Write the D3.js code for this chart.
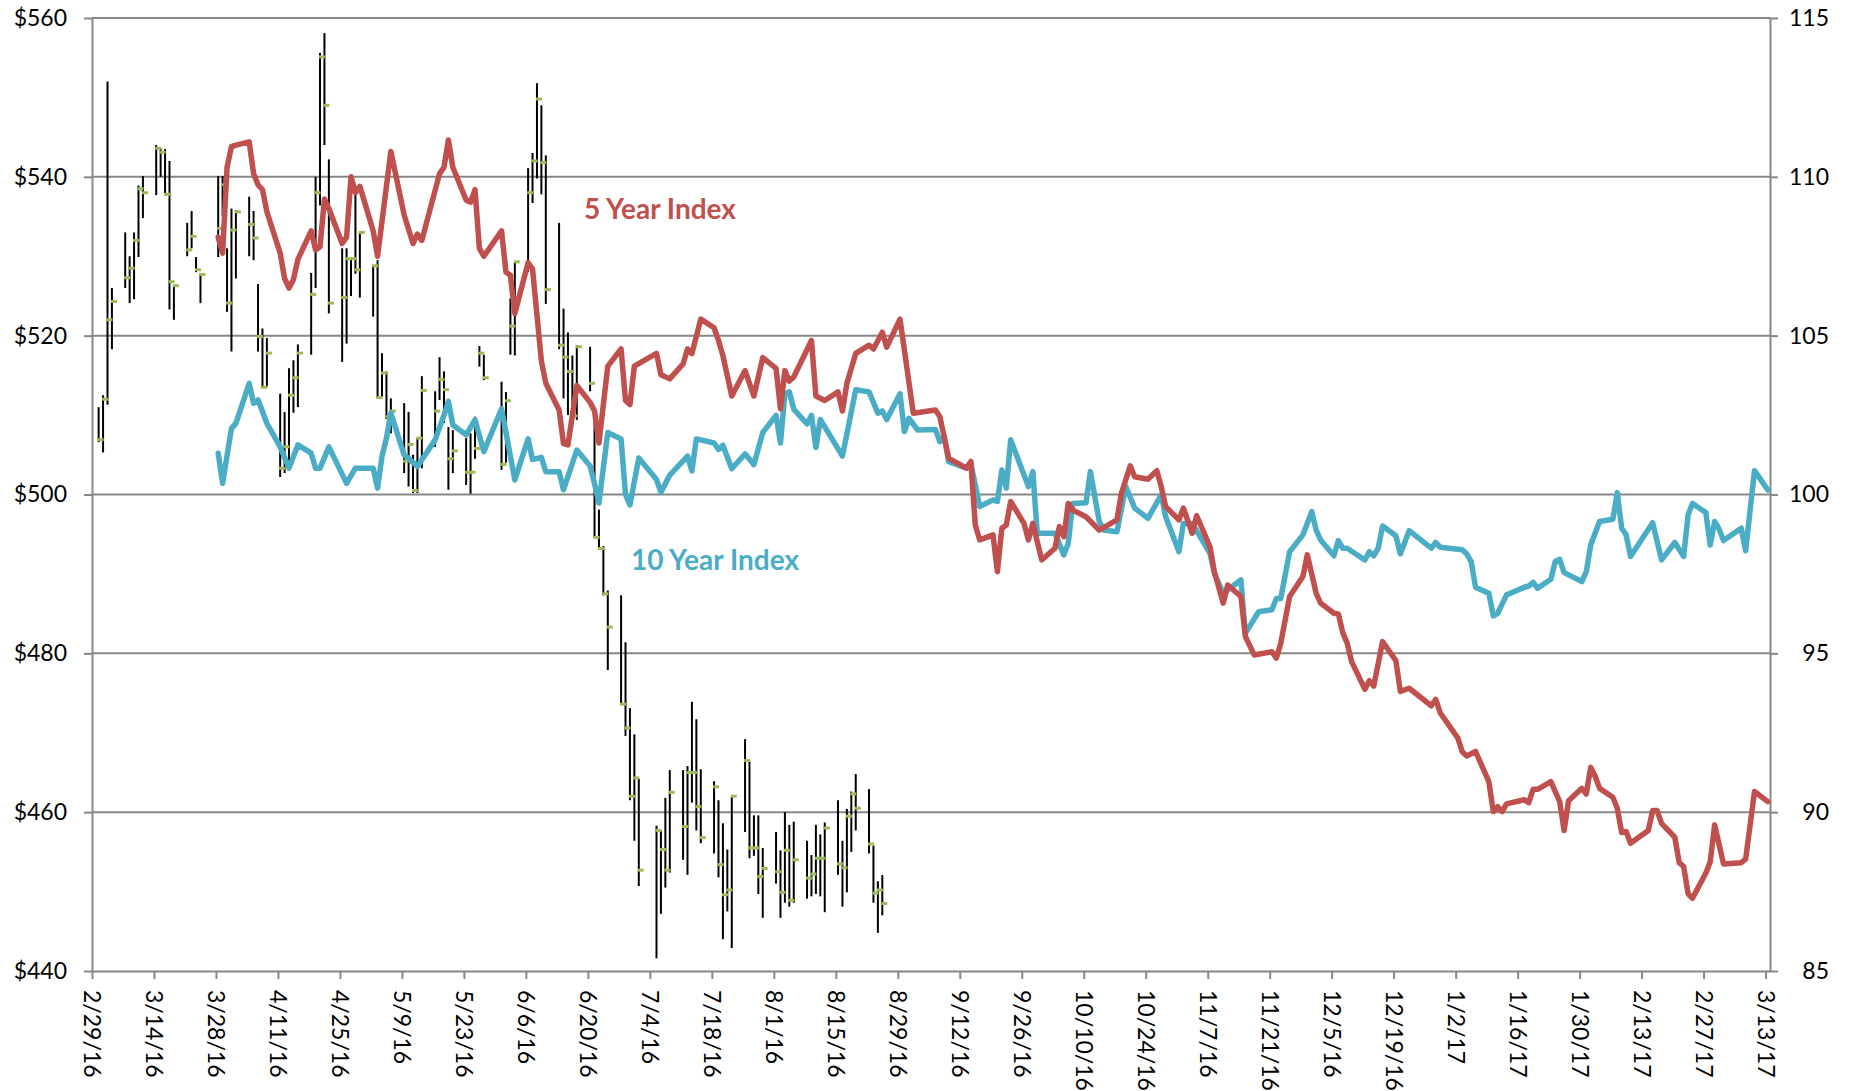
<!DOCTYPE html>
<html>
<head>
<meta charset="utf-8">
<script src="https://cdn.jsdelivr.net/npm/d3@7"></script>
<style>
  html, body { margin: 0; padding: 0; background: #ffffff; }
  svg { display: block; }
</style>
</head>
<body>
<script>
// ---------------- DATA ----------------
const xTickLabels = ["2/29/16","3/14/16","3/28/16","4/11/16","4/25/16","5/9/16","5/23/16","6/6/16","6/20/16","7/4/16","7/18/16","8/1/16","8/15/16","8/29/16","9/12/16","9/26/16","10/10/16","10/24/16","11/7/16","11/21/16","12/5/16","12/19/16","1/2/17","1/16/17","1/30/17","2/13/17","2/27/17","3/13/17"];
const leftTicks = [440, 460, 480, 500, 520, 540, 560];
const rightTicks = [85, 90, 95, 100, 105, 110, 115];

// Stock price: high / low / close
const ohlcDates = ["3/1/16","3/2/16","3/3/16","3/4/16","3/7/16","3/8/16","3/9/16","3/10/16","3/11/16","3/14/16","3/15/16","3/16/16","3/17/16","3/18/16","3/21/16","3/22/16","3/23/16","3/24/16","3/28/16","3/29/16","3/30/16","3/31/16","4/1/16","4/4/16","4/5/16","4/6/16","4/7/16","4/8/16","4/11/16","4/12/16","4/13/16","4/14/16","4/15/16","4/18/16","4/19/16","4/20/16","4/21/16","4/22/16","4/25/16","4/26/16","4/27/16","4/28/16","4/29/16","5/2/16","5/3/16","5/4/16","5/5/16","5/6/16","5/9/16","5/10/16","5/11/16","5/12/16","5/13/16","5/16/16","5/17/16","5/18/16","5/19/16","5/20/16","5/23/16","5/24/16","5/25/16","5/26/16","5/27/16","5/31/16","6/1/16","6/2/16","6/3/16","6/6/16","6/7/16","6/8/16","6/9/16","6/10/16","6/13/16","6/14/16","6/15/16","6/16/16","6/17/16","6/20/16","6/21/16","6/22/16","6/23/16","6/24/16","6/27/16","6/28/16","6/29/16","6/30/16","7/1/16","7/5/16","7/6/16","7/7/16","7/8/16","7/11/16","7/12/16","7/13/16","7/14/16","7/15/16","7/18/16","7/19/16","7/20/16","7/21/16","7/22/16","7/25/16","7/26/16","7/27/16","7/28/16","7/29/16","8/1/16","8/2/16","8/3/16","8/4/16","8/5/16","8/8/16","8/9/16","8/10/16","8/11/16","8/12/16","8/15/16","8/16/16","8/17/16","8/18/16","8/19/16","8/22/16","8/23/16","8/24/16","8/25/16"];
const ohlcHigh = [511.0,512.5,552.0,526.0, 533.0,530.0,533.0,538.9,540.1, 544.0,543.6,543.5,542.0,526.4, 534.2,535.7,529.9,527.8, 540.1,540.1,531.0,536.0, 535.8, 537.5,535.7,526.5,520.9,519.7, 512.7,510.4,515.9,516.9,518.9, 527.9,540.0,555.6,558.1,542.2, 531.0,531.0,529.8,538.8,533.1, 528.9,529.5,517.8,515.5,512.1, 511.5,510.4,505.0,507.1,514.9, 513.0,517.3,515.5,508.5,508.1, 507.1,507.7,509.8,518.7,517.6, 514.2, 512.9,524.7,529.3, 541.1,543.0,551.8,549.0,542.7, 534.2,523.4,520.4,517.5,518.8, 518.6,511.0,498.1,493.5,487.9, 487.3,481.4,473.1,469.8, 464.2, 458.3,457.7,461.8,465.3, 465.3,465.8,473.9,471.7,465.4, 463.9,461.5,458.6,455.3,462.0, 469.2,466.4,459.6,459.6,455.5, 457.5,455.2,460.0,458.4,458.8, 456.4,454.6,458.4,457.2,458.7, 461.5,456.4,460.4,462.6,464.8, 462.9,455.8,451.3,452.1];
const ohlcLow = [506.6,505.3,511.3,518.3, 526.0,524.1,524.6,529.9,534.8, 537.7,540.0,537.7,523.3,522.0, 530.0,531.0,528.0,524.1, 529.9,535.1,523.0,518.0, 527.2, 530.0,529.5,518.0,513.4,513.6, 502.2,502.7,503.1,510.3,511.0, 517.6,526.0,536.4,544.0,522.8, 516.7,519.0,525.0,527.8,524.8, 522.4,512.1,512.3,509.5,507.7, 502.7,501.0,500.2,500.2,503.3, 506.0,511.9,509.0,500.6,502.7, 501.2,500.1,504.5,516.1,514.4, 503.1, 504.0,517.6,517.5, 528.0,536.7,539.8,537.8,524.0, 518.3,512.1,510.0,509.0,509.4, 513.0,494.6,493.2,487.3,477.9, 473.6,469.6,461.5,456.4, 450.7, 441.6,447.2,450.5,452.4, 454.0,452.1,461.2,457.7,456.1, 454.8,451.8,444.0,447.5,442.9, 457.5,454.2,454.5,449.7,446.7, 451.0,446.7,448.6,448.1,448.6, 449.1,449.4,449.7,449.4,447.4, 452.1,448.1,449.9,455.0,457.7, 454.8,448.6,444.8,447.0];
const ohlcClose = [506.9,512.0,522.0,524.3, 527.3,528.5,532.0,538.5,538.0, 543.6,543.1,537.8,526.8,526.3, 530.8,532.5,528.3,527.7, 533.5,539.0,524.1,533.3, 535.6, 534.0,532.3,519.9,513.5,517.8, 503.3,506.0,512.5,514.7,517.8, 525.2,538.0,555.1,549.0,524.1, 524.8,529.7,529.7,528.3,533.0, 528.8,512.2,515.3,509.8,510.5, 504.2,506.3,500.5,507.1,513.1, 510.5,514.5,513.2,504.5,505.5, 502.8,502.8,505.8,517.8,514.7, 503.8, 511.8,521.2,529.3, 538.0,542.0,549.8,541.8,525.8, 518.8,517.3,515.5,509.9,518.6, 514.0,494.6,493.2,487.5,483.3, 473.6,470.6,462.0,464.3, 452.7, 457.7,455.3,452.7,462.5, 458.2,465.0,465.0,460.7,456.8, 463.2,453.4,449.6,450.2,462.0, 466.5,455.5,455.5,451.9,452.9, 452.5,449.9,455.2,448.9,454.0, 451.7,452.2,454.2,454.2,458.0, 453.5,453.0,459.5,462.3,460.5, 456.0,449.8,450.2,448.5];

// 5 Year Index (right axis)
const fiveYearDates = ["3/28/16","3/29/16","3/30/16","3/31/16","4/1/16","4/4/16","4/5/16","4/6/16","4/7/16","4/8/16","4/11/16","4/12/16","4/13/16","4/14/16","4/15/16","4/18/16","4/19/16","4/20/16","4/21/16","4/22/16","4/25/16","4/26/16","4/27/16","4/28/16","4/29/16","5/2/16","5/3/16","5/6/16","5/9/16","5/11/16","5/12/16","5/13/16","5/17/16","5/18/16","5/19/16","5/20/16","5/23/16","5/24/16","5/25/16","5/26/16","5/27/16","5/31/16","6/1/16","6/2/16","6/3/16","6/6/16","6/7/16","6/9/16","6/10/16","6/13/16","6/14/16","6/15/16","6/17/16","6/20/16","6/21/16","6/22/16","6/24/16","6/27/16","6/28/16","6/29/16","6/30/16","7/5/16","7/6/16","7/8/16","7/11/16","7/12/16","7/13/16","7/15/16","7/18/16","7/19/16","7/20/16","7/22/16","7/25/16","7/27/16","7/29/16","8/1/16","8/2/16","8/3/16","8/4/16","8/5/16","8/9/16","8/10/16","8/12/16","8/15/16","8/16/16","8/17/16","8/19/16","8/22/16","8/23/16","8/25/16","8/26/16","8/29/16","9/1/16","9/6/16","9/7/16","9/9/16","9/13/16","9/14/16","9/15/16","9/16/16","9/19/16","9/20/16","9/21/16","9/22/16","9/23/16","9/26/16","9/27/16","9/28/16","9/30/16","10/3/16","10/4/16","10/5/16","10/6/16","10/7/16","10/10/16","10/13/16","10/17/16","10/18/16","10/20/16","10/21/16","10/24/16","10/26/16","10/27/16","10/28/16","10/31/16","11/1/16","11/3/16","11/4/16","11/7/16","11/8/16","11/10/16","11/11/16","11/14/16","11/15/16","11/17/16","11/21/16","11/22/16","11/23/16","11/25/16","11/28/16","11/29/16","12/1/16","12/2/16","12/5/16","12/6/16","12/7/16","12/8/16","12/9/16","12/12/16","12/13/16","12/14/16","12/16/16","12/19/16","12/20/16","12/22/16","12/27/16","12/28/16","12/29/16","1/2/17","1/3/17","1/4/17","1/6/17","1/9/17","1/10/17","1/11/17","1/12/17","1/13/17","1/17/17","1/18/17","1/19/17","1/20/17","1/23/17","1/25/17","1/26/17","1/27/17","1/30/17","1/31/17","2/1/17","2/2/17","2/3/17","2/6/17","2/7/17","2/8/17","2/9/17","2/10/17","2/14/17","2/15/17","2/16/17","2/17/17","2/20/17","2/21/17","2/22/17","2/23/17","2/24/17","2/27/17","2/28/17","3/1/17","3/3/17","3/7/17","3/8/17","3/10/17","3/13/17"];
const fiveYearValues = [108.1,107.6,110.3,110.95,111.0,111.1,110.1,109.75,109.6,108.9,107.6,106.8,106.5,106.77,107.4,108.3,107.7,107.8,109.3,109.0,107.9,108.1,110.0,109.5,109.7,108.3,107.5,110.8,108.8,107.9,108.2,108.0,110.1,110.3,111.16,110.3,109.27,109.2,109.6,107.75,107.5,108.3,107.0,106.9,105.7,107.3,107.1,104.2,103.5,102.66,101.6,101.56,103.43,102.9,102.63,101.62,104.04,104.58,102.96,102.83,104.04,104.44,103.77,103.64,104.11,104.58,104.44,105.52,105.25,104.85,104.37,103.1,103.9,103.1,104.31,103.97,102.7,103.9,103.57,103.7,104.85,103.1,102.96,103.23,102.63,103.5,104.44,104.7,104.58,105.11,104.64,105.52,102.56,102.66,102.45,101.14,100.83,101.04,99.04,98.57,98.73,97.57,98.94,99.04,99.78,99.09,98.57,99.09,97.94,98.31,98.99,98.67,99.72,99.51,99.3,98.88,99.2,100.04,100.9,100.56,100.48,100.75,100.25,99.62,99.2,99.57,98.78,99.33,98.36,97.57,96.58,97.15,96.79,95.53,94.95,95.05,94.85,95.32,96.79,97.42,98.1,96.89,96.58,96.26,96.24,95.65,95.32,94.74,93.87,94.14,93.97,95.37,94.77,93.8,93.9,93.35,93.55,93.13,92.33,91.9,91.77,91.91,90.96,90.02,90.17,90.02,90.26,90.39,90.3,90.72,90.72,90.96,90.33,89.42,90.36,90.75,90.57,91.41,91.14,90.75,90.47,90.12,89.36,89.39,89.02,89.42,90.05,90.05,89.65,89.21,88.41,88.29,87.43,87.29,88.08,88.44,89.6,88.37,88.41,88.52,90.65,90.33];

// 10 Year Index (right axis)
const tenYearDates = ["3/28/16","3/29/16","3/31/16","4/1/16","4/4/16","4/5/16","4/6/16","4/8/16","4/11/16","4/13/16","4/15/16","4/18/16","4/19/16","4/20/16","4/22/16","4/26/16","4/28/16","5/2/16","5/3/16","5/4/16","5/5/16","5/6/16","5/9/16","5/10/16","5/12/16","5/16/16","5/18/16","5/19/16","5/20/16","5/23/16","5/25/16","5/27/16","5/31/16","6/3/16","6/6/16","6/7/16","6/9/16","6/10/16","6/13/16","6/14/16","6/17/16","6/20/16","6/21/16","6/22/16","6/24/16","6/27/16","6/28/16","6/29/16","7/1/16","7/5/16","7/6/16","7/8/16","7/12/16","7/13/16","7/14/16","7/18/16","7/19/16","7/20/16","7/22/16","7/25/16","7/27/16","7/29/16","8/1/16","8/2/16","8/3/16","8/4/16","8/5/16","8/8/16","8/9/16","8/10/16","8/11/16","8/16/16","8/19/16","8/22/16","8/24/16","8/25/16","8/26/16","8/29/16","8/30/16","8/31/16","9/2/16","9/6/16","9/7/16","9/8/16","9/9/16","9/13/16","9/14/16","9/16/16","9/19/16","9/20/16","9/21/16","9/22/16","9/23/16","9/27/16","9/28/16","9/29/16","10/3/16","10/5/16","10/6/16","10/7/16","10/10/16","10/11/16","10/13/16","10/14/16","10/17/16","10/19/16","10/21/16","10/24/16","10/27/16","10/28/16","10/31/16","11/1/16","11/3/16","11/7/16","11/8/16","11/10/16","11/14/16","11/15/16","11/18/16","11/21/16","11/22/16","11/23/16","11/25/16","11/28/16","11/30/16","12/1/16","12/2/16","12/5/16","12/6/16","12/7/16","12/8/16","12/12/16","12/13/16","12/14/16","12/15/16","12/16/16","12/19/16","12/20/16","12/22/16","12/27/16","12/28/16","12/29/16","1/3/17","1/4/17","1/5/17","1/6/17","1/9/17","1/10/17","1/11/17","1/13/17","1/17/17","1/18/17","1/19/17","1/20/17","1/23/17","1/24/17","1/25/17","1/26/17","1/30/17","1/31/17","2/1/17","2/3/17","2/6/17","2/7/17","2/8/17","2/9/17","2/10/17","2/15/17","2/17/17","2/20/17","2/22/17","2/23/17","2/24/17","2/27/17","2/28/17","3/1/17","3/2/17","3/3/17","3/7/17","3/8/17","3/10/17","3/13/17"];
const tenYearValues = [101.3,100.35,102.08,102.24,103.5,102.87,102.98,102.24,101.5,100.83,101.56,101.3,100.83,100.83,101.5,100.35,100.83,100.83,100.2,101.2,101.77,102.56,101.25,101.14,100.88,101.72,102.5,102.93,102.19,101.88,102.35,101.35,102.7,100.46,101.75,101.1,101.17,100.72,100.72,100.15,101.4,100.9,100.34,99.73,101.95,101.75,100.0,99.67,101.15,100.47,100.07,100.61,101.21,100.74,101.75,101.62,101.42,101.55,100.81,101.28,100.94,101.95,102.49,101.62,103.17,103.23,102.69,102.22,102.49,101.48,102.36,101.21,103.3,103.23,102.56,102.63,102.36,103.17,101.98,102.4,102.03,102.05,101.66,101.82,101.03,100.83,100.98,99.62,99.83,99.78,100.77,100.2,101.72,100.25,100.72,98.78,98.78,98.1,98.46,99.72,99.74,100.72,99.15,98.88,98.83,100.25,99.57,99.25,99.99,99.3,98.2,99.09,99.09,98.15,97.52,96.89,97.31,95.63,96.31,96.37,96.73,96.73,98.2,98.73,99.46,98.88,98.57,98.07,98.55,98.31,98.31,97.94,98.2,98.07,98.31,99.01,98.7,98.13,98.86,98.31,98.49,98.34,98.26,98.13,97.89,97.08,96.89,96.18,96.26,96.84,97.08,97.12,97.23,97.05,97.33,97.89,97.96,97.54,97.26,97.57,98.41,99.15,99.22,100.06,98.94,98.73,98.05,99.11,97.94,98.49,98.05,99.36,99.72,99.43,98.41,99.15,98.91,98.55,98.94,98.23,100.75,100.14];

const seriesLabels = ["5 Year Index", "10 Year Index"];

// ---------------- CHART ----------------
const W = 1862, H = 1091;
const plot = { left: 92, right: 1770, top: 18, bottom: 971 };
const FONT = "Lato, 'Open Sans', 'DejaVu Sans', sans-serif";
const GRID = "#878787";
const RED = "#c0504d", BLUE = "#4bacc6", GREEN = "#9bbb59";

const parse = d3.utcParse("%m/%d/%y");
const mid = s => new Date(parse(s).getTime() + 12 * 3600 * 1000);

const x = d3.scaleUtc()
  .domain([parse("2/29/16"), parse("3/14/17")])
  .range([plot.left, plot.right]);
const yL = d3.scaleLinear().domain([440, 560]).range([plot.bottom, plot.top]);
const yR = d3.scaleLinear().domain([85, 115]).range([plot.bottom, plot.top]);

const svg = d3.select("body").append("svg")
  .attr("width", W).attr("height", H)
  .style("background", "#fff");

// gridlines
svg.append("g").selectAll("line")
  .data(leftTicks.filter(v => v !== 440))
  .join("line")
  .attr("x1", plot.left).attr("x2", plot.right)
  .attr("y1", d => yL(d)).attr("y2", d => yL(d))
  .attr("stroke", GRID).attr("stroke-width", 2);

function styleAxis(g) {
  g.selectAll("path.domain").attr("stroke", GRID).attr("stroke-width", 2);
  g.selectAll(".tick line").attr("stroke", GRID).attr("stroke-width", 2);
  g.selectAll("text").attr("fill", "#000").style("font-family", FONT).style("font-size", "23px");
}

// left axis
const gL = svg.append("g").attr("transform", `translate(${plot.left},0)`)
  .call(d3.axisLeft(yL).tickValues(leftTicks).tickFormat(d => "$" + d).tickSize(8).tickSizeOuter(0).tickPadding(17));
styleAxis(gL);

// right axis
const gR = svg.append("g").attr("transform", `translate(${plot.right},0)`)
  .call(d3.axisRight(yR).tickValues(rightTicks).tickSize(8).tickSizeOuter(0));
styleAxis(gR);
gR.selectAll("text").attr("x", 59).attr("text-anchor", "end");

// bottom axis
const xTickDates = xTickLabels.map(parse);
const gB = svg.append("g").attr("transform", `translate(0,${plot.bottom})`)
  .call(d3.axisBottom(x).tickValues(xTickDates).tickFormat((d, i) => xTickLabels[i]).tickSize(8).tickSizeOuter(0));
styleAxis(gB);
gB.selectAll("text")
  .attr("transform", "rotate(90)")
  .attr("x", 19).attr("y", 0).attr("dy", "0.35em")
  .attr("text-anchor", "start");

// HLC bars
const ohlc = ohlcDates.map((d, i) => ({ date: d, h: ohlcHigh[i], l: ohlcLow[i], c: ohlcClose[i] }));
const gBars = svg.append("g");
gBars.selectAll("line.hl").data(ohlc).join("line")
  .attr("class", "hl")
  .attr("x1", d => x(mid(d.date))).attr("x2", d => x(mid(d.date)))
  .attr("y1", d => yL(d.h)).attr("y2", d => yL(d.l))
  .attr("stroke", "#000").attr("stroke-width", 2);
gBars.selectAll("line.cl").data(ohlc).join("line")
  .attr("class", "cl")
  .attr("x1", d => x(mid(d.date)) - 1).attr("x2", d => x(mid(d.date)) + 5)
  .attr("y1", d => yL(d.c)).attr("y2", d => yL(d.c))
  .attr("stroke", GREEN).attr("stroke-width", 3);

// index lines
const line = d3.line().x(d => x(mid(d.date))).y(d => yR(d.v));
const five = fiveYearDates.map((d, i) => ({ date: d, v: fiveYearValues[i] }));
const ten = tenYearDates.map((d, i) => ({ date: d, v: tenYearValues[i] }));

svg.append("path").datum(ten).attr("d", line)
  .attr("fill", "none").attr("stroke", BLUE).attr("stroke-width", 5.5)
  .attr("stroke-linejoin", "round").attr("stroke-linecap", "round");
svg.append("path").datum(five).attr("d", line)
  .attr("fill", "none").attr("stroke", RED).attr("stroke-width", 5.5)
  .attr("stroke-linejoin", "round").attr("stroke-linecap", "round");

// series labels
svg.append("text").text(seriesLabels[0])
  .attr("x", 660).attr("y", 209).attr("dy", "0.35em")
  .attr("text-anchor", "middle").attr("fill", RED)
  .style("font-family", FONT).style("font-weight", "bold").style("font-size", "28px");
svg.append("text").text(seriesLabels[1])
  .attr("x", 715).attr("y", 560).attr("dy", "0.35em")
  .attr("text-anchor", "middle").attr("fill", BLUE)
  .style("font-family", FONT).style("font-weight", "bold").style("font-size", "28px");
</script>
</body>
</html>
